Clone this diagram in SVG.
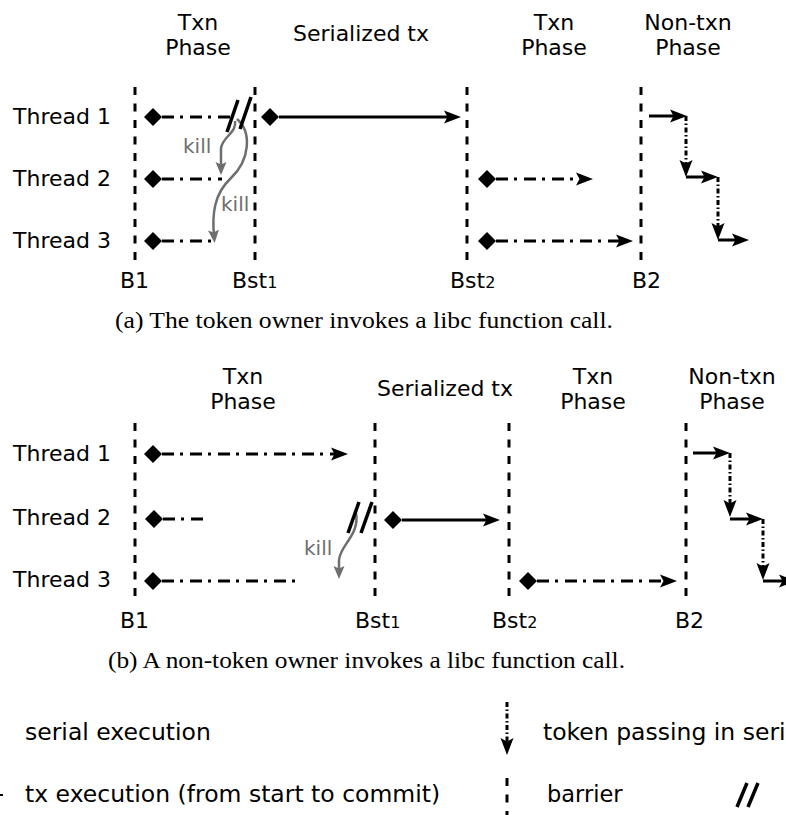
<svg xmlns="http://www.w3.org/2000/svg" width="786" height="815" viewBox="0 0 786 815">
  <defs>
    <marker id="arrow" markerUnits="userSpaceOnUse" markerWidth="17" markerHeight="14" viewBox="0 0 17 14" refX="11" refY="7" orient="auto">
      <path d="M0,0.5 L17,7 L0,13.5 L3.5,7 Z" fill="#000"/>
    </marker>
    <marker id="karrow" markerUnits="userSpaceOnUse" markerWidth="13" markerHeight="12" viewBox="0 0 13 12" refX="6" refY="6" orient="auto">
      <path d="M0,0.5 L13,6 L0,11.5 L2.5,6 Z" fill="#6e6e6e"/>
    </marker>
    <path id="dm" d="M-9,0 L0,-9 L9,0 L0,9 Z" fill="#000"/>
  </defs>
  <style>
    .lbl{font-family:"DejaVu Sans",sans-serif;font-size:22px;fill:#000}
    .mid{text-anchor:middle}
    .sub{font-size:16px}
    .leg{font-family:"DejaVu Sans",sans-serif;font-size:23.5px;fill:#000}
    .cap{font-family:"Liberation Serif",serif;font-size:24px;fill:#000}
    .bar{stroke:#000;stroke-width:3;stroke-dasharray:8 8.5;fill:none}
    .tx{stroke:#000;stroke-width:3;stroke-dasharray:12 6 3 7;fill:none}
    .ser{stroke:#000;stroke-width:3;fill:none}
    .tok{stroke:#000;stroke-width:3;stroke-dasharray:5 2.5 1.5 2.5;fill:none}
    .arr{marker-end:url(#arrow)}
    .kill{stroke:#6e6e6e;stroke-width:2.5;fill:none;marker-end:url(#karrow)}
    .ktxt{font-family:"DejaVu Sans",sans-serif;font-size:20px;fill:#6e6e6e}
    .brk{stroke:#000;stroke-width:3.5}
  </style>

  <!-- (a) token owner calls libc -->
  <g id="panel-a">
    <g id="a-headers" class="lbl mid">
      <text x="198" y="30">Txn</text>
      <text x="198" y="55">Phase</text>
      <text x="361" y="41">Serialized tx</text>
      <text x="554" y="30">Txn</text>
      <text x="554" y="55">Phase</text>
      <text x="688" y="30">Non-txn</text>
      <text x="688" y="55">Phase</text>
    </g>
    <g id="a-threads" class="lbl">
      <text x="13" y="124">Thread 1</text>
      <text x="13" y="186">Thread 2</text>
      <text x="13" y="248">Thread 3</text>
    </g>
    <g id="a-barriers">
      <line class="bar" x1="135" y1="87" x2="135" y2="260"/>
      <line class="bar" x1="255" y1="87" x2="255" y2="260"/>
      <line class="bar" x1="467" y1="87" x2="467" y2="260"/>
      <line class="bar" x1="641" y1="87" x2="641" y2="260"/>
      <g class="lbl">
        <text x="120" y="288">B1</text>
        <text x="232" y="288">Bst<tspan class="sub">1</tspan></text>
        <text x="450" y="288">Bst<tspan class="sub">2</tspan></text>
        <text x="632" y="288">B2</text>
      </g>
    </g>
    <g id="a-connectors">
      <line class="tx" x1="162" y1="117" x2="232" y2="117"/>
      <line class="tx" x1="162" y1="179" x2="222" y2="179"/>
      <line class="tx" x1="162" y1="241" x2="215" y2="241"/>
      <line class="ser arr" x1="279" y1="117" x2="455" y2="117"/>
      <line class="tx arr" x1="496" y1="179" x2="587" y2="179"/>
      <line class="tx arr" x1="496" y1="241" x2="627" y2="241"/>
      <line class="ser arr" x1="649" y1="116" x2="681" y2="116"/>
      <line class="tok arr" x1="686" y1="116" x2="686" y2="171"/>
      <line class="ser arr" x1="686" y1="177" x2="712" y2="177"/>
      <line class="tok arr" x1="718" y1="177" x2="718" y2="234"/>
      <line class="ser arr" x1="718" y1="240" x2="743" y2="240"/>
      <path class="kill" d="M235,121 C237,133 223,136 221,148 L221,168"/>
      <path class="kill" d="M237,119 C252,132 250,160 231,178 C214,194 212,214 214,236"/>
    </g>
    <g id="a-marks">
      <use href="#dm" x="153" y="117"/>
      <use href="#dm" x="153" y="179"/>
      <use href="#dm" x="153" y="241"/>
      <use href="#dm" x="270" y="117"/>
      <use href="#dm" x="487" y="179"/>
      <use href="#dm" x="487" y="241"/>
      <line class="brk" x1="227" y1="132" x2="238" y2="100"/>
      <line class="brk" x1="240" y1="129" x2="251" y2="97"/>
      <text class="ktxt" x="183" y="153">kill</text>
      <text class="ktxt" x="221" y="211">kill</text>
    </g>
    <text class="cap" x="115" y="328" textLength="498" lengthAdjust="spacingAndGlyphs">(a) The token owner invokes a libc function call.</text>
  </g>

  <!-- (b) non-token owner calls libc -->
  <g id="panel-b">
    <g id="b-headers" class="lbl mid">
      <text x="243" y="384">Txn</text>
      <text x="243" y="409">Phase</text>
      <text x="445" y="396">Serialized tx</text>
      <text x="593" y="384">Txn</text>
      <text x="593" y="409">Phase</text>
      <text x="732" y="384">Non-txn</text>
      <text x="732" y="409">Phase</text>
    </g>
    <g id="b-threads" class="lbl">
      <text x="13" y="461">Thread 1</text>
      <text x="13" y="525">Thread 2</text>
      <text x="13" y="587">Thread 3</text>
    </g>
    <g id="b-barriers">
      <line class="bar" x1="135" y1="423" x2="135" y2="596"/>
      <line class="bar" x1="375" y1="423" x2="375" y2="596"/>
      <line class="bar" x1="509" y1="423" x2="509" y2="596"/>
      <line class="bar" x1="686" y1="423" x2="686" y2="596"/>
      <g class="lbl">
        <text x="120" y="628">B1</text>
        <text x="355" y="628">Bst<tspan class="sub">1</tspan></text>
        <text x="492" y="628">Bst<tspan class="sub">2</tspan></text>
        <text x="675" y="628">B2</text>
      </g>
    </g>
    <g id="b-connectors">
      <line class="tx arr" x1="162" y1="454" x2="342" y2="454"/>
      <line class="tx" x1="163" y1="519" x2="205" y2="519"/>
      <line class="tx" x1="162" y1="581" x2="297" y2="581"/>
      <line class="ser arr" x1="402" y1="520" x2="494" y2="520"/>
      <line class="tx arr" x1="537" y1="581" x2="671" y2="581"/>
      <line class="ser arr" x1="693" y1="453" x2="724" y2="453"/>
      <line class="tok arr" x1="730" y1="453" x2="730" y2="511"/>
      <line class="ser arr" x1="730" y1="519" x2="757" y2="519"/>
      <line class="tok arr" x1="763" y1="519" x2="763" y2="574"/>
      <line class="ser arr" x1="763" y1="581" x2="790" y2="581"/>
      <path class="kill" d="M356,513 C360,535 340,545 339,560 L339,572"/>
    </g>
    <g id="b-marks">
      <use href="#dm" x="153" y="454"/>
      <use href="#dm" x="154" y="519"/>
      <use href="#dm" x="153" y="581"/>
      <use href="#dm" x="393" y="520"/>
      <use href="#dm" x="528" y="581"/>
      <line class="brk" x1="348" y1="533" x2="359" y2="502"/>
      <line class="brk" x1="361" y1="533" x2="372" y2="502"/>
      <text class="ktxt" x="304" y="555">kill</text>
    </g>
    <text class="cap" x="108" y="668" textLength="517" lengthAdjust="spacingAndGlyphs">(b) A non-token owner invokes a libc function call.</text>
  </g>

  <!-- legend -->
  <g id="legend">
    <line x1="0" y1="795" x2="3" y2="795" stroke="#000" stroke-width="2"/>
    <text class="leg" x="25" y="740">serial execution</text>
    <text class="leg" x="25" y="802">tx execution (from start to commit)</text>
    <line class="tok arr" x1="507" y1="702" x2="507" y2="749"/>
    <text class="leg" x="543" y="740">token passing in seri</text>
    <line class="bar" x1="507" y1="778" x2="507" y2="815"/>
    <text class="lbl" x="547" y="802" style="font-size:22.5px">barrier</text>
    <line class="brk" x1="737" y1="807" x2="747" y2="783"/>
    <line class="brk" x1="748" y1="807" x2="758" y2="783"/>
  </g>
</svg>
